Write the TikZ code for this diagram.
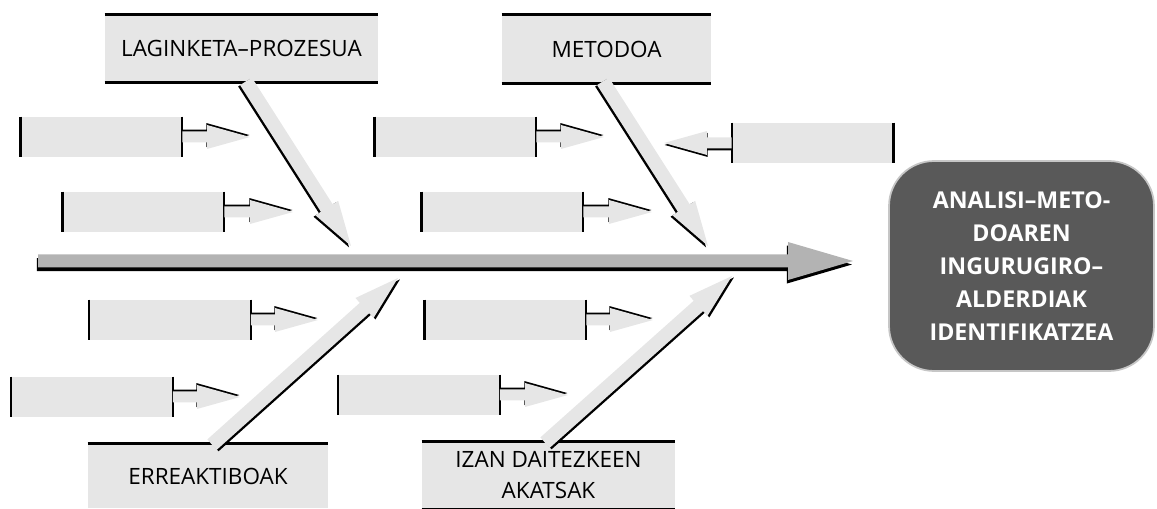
\documentclass[tikz,border=0pt]{standalone}
\usepackage{fontspec}
\setmainfont{Open Sans}
\usepackage{tikz}
\usetikzlibrary{calc}

\definecolor{boxgray}{HTML}{E6E6E6}
\definecolor{spinegray}{HTML}{B3B3B3}
\definecolor{effectgray}{HTML}{595959}

% outline of a fat arrow: #1 start, #2 tip, #3 half shaft, #4 half head (needs coordinate hb)
\newcommand{\fatpath}[4]{($(#1)!#3!90:(#2)$) -- ($(hb)!#3!90:(#2)$) -- ($(hb)!#4!90:(#2)$) -- (#2)
  -- ($(hb)!#4!-90:(#2)$) -- ($(hb)!#3!-90:(#2)$) -- ($(#1)!#3!-90:(#2)$) -- cycle}
% #5 head length, #6 shift of the black shadow, #7 fill
\newcommand{\fatarrow}[7]{%
  \coordinate (hb) at ($(#2)!#5!(#1)$);
  \begin{scope}[transform canvas={#6}]
    \fill[black] \fatpath{#1}{#2}{#3}{#4};
  \end{scope}
  \fill[#7] \fatpath{#1}{#2}{#3}{#4};
}

\tikzset{
  cat/.style={fill=boxgray, inner sep=0pt, align=center, font=\fontsize{12.8}{18}\selectfont},
  cause/.style={fill=boxgray, minimum width=3.22cm, minimum height=0.8cm, inner sep=0pt},
  effect/.style={fill=effectgray, draw=gray!45, line width=1pt, rounded corners=0.9cm,
    minimum width=5.3cm, minimum height=4.2cm, text=white, align=center,
    font=\bfseries\fontsize{13.2}{18.8}\selectfont}
}

\begin{document}
\begin{tikzpicture}[x=0.02cm, y=-0.02cm]
  \useasboundingbox (0,0) rectangle (1157,509);

  % spine
  \coordinate (sp0) at (38,261);
  \coordinate (sptip) at (853,261);
  \fatarrow{sp0}{sptip}{0.13cm}{0.38cm}{1.3cm}{xshift=-0.6pt,yshift=-2pt}{spinegray}

  % effect
  \node[effect] (eff) at (1021.5,266) {ANALISI–METO-\\DOAREN\\INGURUGIRO–\\ALDERDIAK\\IDENTIFIKATZEA};

  % main categories
  \node[cat, minimum width=5.46cm, minimum height=1.34cm] (lag) at (241.5,48.5) {LAGINKETA–PROZESUA};
  \node[cat, minimum width=4.18cm, minimum height=1.36cm] (met) at (606.5,49) {METODOA};
  \node[cat, minimum width=4.8cm, minimum height=1.28cm] (err) at (208,476) {ERREAKTIBOAK};
  \node[cat, minimum width=5.06cm, minimum height=1.32cm] (aka) at (548.5,475) {IZAN DAITEZKEEN\\AKATSAK};
  \draw[line width=1.5pt] (lag.north west) -- (lag.north east);
  \draw[line width=1.5pt] (lag.south west) -- (lag.south east);
  \draw[line width=1.5pt] (met.north west) -- (met.north east);
  \draw[line width=1.5pt] (met.south west) -- (met.south east);
  \draw[line width=1.5pt] (err.north west) -- (err.north east);
  \draw[line width=1.5pt] (aka.north west) -- (aka.north east);
  \draw[line width=0.6pt] (aka.south west) -- (aka.south east);

  \coordinate (lagtip) at (351,246);
  \coordinate (mettip) at (708,246);
  \coordinate (errtip) at (398,278);
  \coordinate (akatip) at (732,276);
  \fatarrow{$(lag.south)+(4.5,-1)$}{lagtip}{0.14cm}{0.27cm}{0.9cm}{xshift=-1.1pt,yshift=-0.8pt}{boxgray}
  \fatarrow{$(met.south)+(-3.5,-2)$}{mettip}{0.14cm}{0.27cm}{0.9cm}{xshift=-1.1pt,yshift=-0.8pt}{boxgray}
  \fatarrow{$(err.north)+(4,1)$}{errtip}{0.14cm}{0.27cm}{0.9cm}{xshift=1.1pt,yshift=-0.8pt}{boxgray}
  \fatarrow{$(aka.north)+(-3.5,1)$}{akatip}{0.14cm}{0.27cm}{0.9cm}{xshift=1.1pt,yshift=-0.8pt}{boxgray}

  % causes
  \foreach \n/\x/\y/\t in {c1/101.5/137/250, c2/455.5/137/604, c4/143.5/212/293, c5/502.5/212/652,
                           c6/170/320/318, c7/505.5/320/653, c8/92/397/240, c9/419/395/568}
  {
    \node[cause] (\n) at (\x,\y) {};
    \draw[line width=1.5pt] (\n.north west) -- (\n.south west);
    \draw[line width=1.1pt] (\n.north east) -- (\n.south east);
    \coordinate (\n tip) at (\t,\y);
    \fatarrow{\n.east}{\n tip}{0.11cm}{0.24cm}{0.86cm}{xshift=-0.3pt,yshift=1.1pt}{boxgray}
  }
  \node[cause] (c3) at (812.5,143) {};
  \draw[line width=1.1pt] (c3.north west) -- (c3.south west);
  \draw[line width=1.5pt] (c3.north east) -- (c3.south east);
  \coordinate (c3tip) at (664,143);
  \fatarrow{c3.west}{c3tip}{0.11cm}{0.24cm}{0.86cm}{xshift=0.3pt,yshift=-1.1pt}{boxgray}
\end{tikzpicture}
\end{document}
